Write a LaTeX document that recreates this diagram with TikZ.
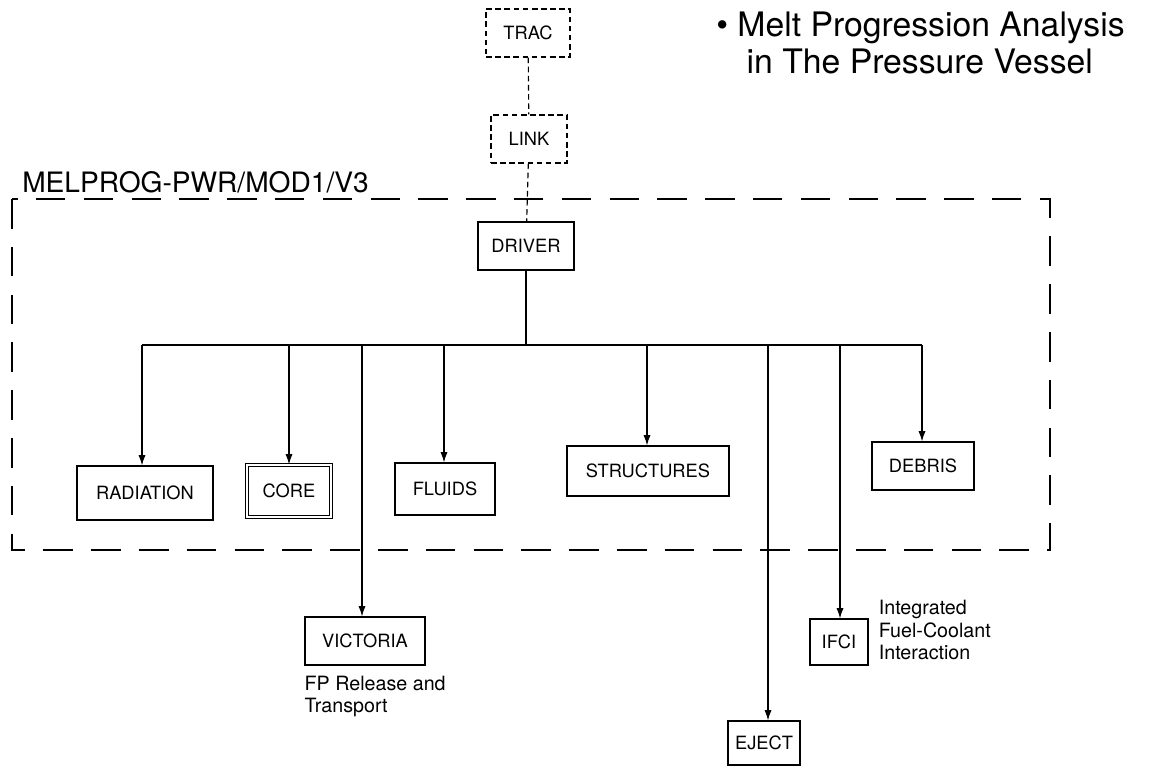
\documentclass[tikz,border=0pt]{standalone}
\usepackage{fontspec}
\setmainfont{TeX Gyre Heros}
\usetikzlibrary{arrows.meta, positioning}

\begin{document}
\begin{tikzpicture}[
  x=0.25mm, y=-0.25mm,
  font=\fontsize{13}{15}\selectfont,
  >={Latex[length=2.6mm, width=1.8mm]},
  every node/.style={align=center},
  modbox/.style={rectangle, draw, line width=0.8pt, inner sep=2pt, minimum height=12mm},
  linkbox/.style={modbox, dash pattern=on 4pt off 2.5pt},
  corebox/.style={modbox, double, double distance=1.6pt},
  frame/.style={draw, line width=0.9pt, dash pattern=on 21pt off 13pt},
  wire/.style={line width=0.8pt},
  note/.style={font=\fontsize{14}{16}\selectfont, align=left, inner sep=0pt},
]
\useasboundingbox (0,0) rectangle (1153,769);

% ---------- coupling to the system code ----------
\node[linkbox, minimum width=21mm] (trac) at (528,33) {TRAC};
\node[linkbox, minimum width=19mm] (link) at (529,139) {LINK};

% ---------- MELPROG frame ----------
\draw[frame] (12,199) rectangle (1050,550);
\node[anchor=south west, inner sep=0pt, font=\fontsize{20}{22}\selectfont] (title) at (22,193) {MELPROG-PWR/MOD1/V3};
\node[anchor=north west, align=left, inner sep=0pt, font=\fontsize{24}{26}\selectfont] (topic) at (716,12)
  {\textbullet\ Melt Progression Analysis\\ \hspace{0.9em}in The Pressure Vessel};

\node[modbox, minimum width=24mm] (driver) at (526,246) {DRIVER};

% modules inside the frame
\node[modbox, minimum width=34mm, minimum height=13.5mm] (rad) at (145,493) {RADIATION};
\node[corebox, minimum width=21mm, minimum height=13mm] (core) at (289,491) {CORE};
\node[modbox, minimum width=25mm, minimum height=13mm] (fluids) at (445,489) {FLUIDS};
\node[modbox, minimum width=40.5mm, minimum height=12.5mm] (struct) at (648,471) {STRUCTURES};
\node[modbox, minimum width=25.5mm] (debris) at (923,466) {DEBRIS};

% modules outside the frame
\node[modbox, minimum width=30mm] (vict) at (365,641) {VICTORIA};
\node[modbox, minimum width=14.5mm, minimum height=11.5mm] (ifci) at (839,642) {IFCI};
\node[modbox, minimum width=18mm, minimum height=11mm] (eject) at (764,743) {EJECT};

\node[note, below right=2.5mm and 0mm of vict.south west] (victnote) {FP Release and\\Transport};
\node[note, right=2.5mm of ifci.east, anchor=west, yshift=3mm] (ifcinote) {Integrated\\Fuel-Coolant\\Interaction};

% ---------- connectors ----------
\draw[wire, dash pattern=on 4pt off 2.5pt] (trac) -- (link);
\draw[wire, dash pattern=on 4pt off 2.5pt] (link) -- (driver);

\coordinate (busL) at (142,345);
\coordinate (busR) at (922,345);
\draw[wire] (driver.south) -- (driver.south |- busL);
\draw[wire] (busL) -- (busR);
\foreach \n/\x in {rad/142, core/289, vict/362, fluids/444, struct/647, eject/768, ifci/840, debris/922}{
  \coordinate (b\n) at (\x,345);
  \draw[wire, ->] (b\n) -- (b\n |- \n.north);
}

\end{tikzpicture}
\end{document}
